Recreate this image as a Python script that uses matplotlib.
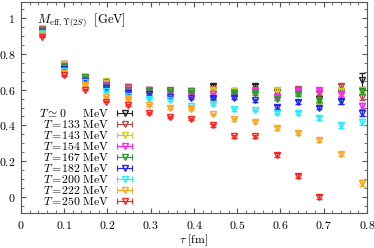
import matplotlib
matplotlib.use('Agg')
import matplotlib.pyplot as plt
from matplotlib.lines import Line2D
from matplotlib.legend_handler import HandlerLine2D
from matplotlib.ticker import MultipleLocator, FuncFormatter

plt.rcParams['mathtext.fontset'] = 'cm'
plt.rcParams['font.family'] = ['DejaVu Serif']

# Euclidean time (fm)
tau = [0.049, 0.099, 0.148, 0.197, 0.247, 0.296, 0.345, 0.394,
       0.444, 0.493, 0.542, 0.592, 0.641, 0.690, 0.740, 0.789]

labels = [r'$T\simeq0\ \ \ \ \ \mathrm{MeV}$', r'$T=\!133\ \mathrm{MeV}$', r'$T=\!143\ \mathrm{MeV}$',
          r'$T=\!154\ \mathrm{MeV}$', r'$T=\!167\ \mathrm{MeV}$', r'$T=\!182\ \mathrm{MeV}$',
          r'$T=\!200\ \mathrm{MeV}$', r'$T=\!222\ \mathrm{MeV}$', r'$T=\!250\ \mathrm{MeV}$']
colors = ['#202020', '#c04848', '#cccc22', '#ff22ff', '#2a9a2a', '#2222ff', '#22eeff', '#ffa520', '#ff2020']

m_T0 = [0.94, 0.745, 0.668, 0.64, 0.612, 0.598, 0.595, 0.59, 0.622, 0.59, 0.618, 0.585, 0.59, 0.545, 0.58, 0.652]
m_133 = [0.94, 0.742, 0.665, 0.638, 0.614, 0.596, 0.592, 0.588, 0.605, 0.585, 0.60, 0.59, 0.605, 0.58, 0.62, 0.56]
m_143 = [0.935, 0.746, 0.666, 0.648, 0.605, 0.592, 0.59, 0.595, 0.60, 0.59, 0.59, 0.60, 0.58, 0.52, 0.59, 0.60]
m_154 = [0.93, 0.73, 0.66, 0.626, 0.61, 0.60, 0.585, 0.575, 0.575, 0.575, 0.59, 0.56, 0.59, 0.60, 0.575, 0.51]
m_167 = [0.935, 0.725, 0.67, 0.62, 0.60, 0.59, 0.60, 0.59, 0.55, 0.58, 0.58, 0.55, 0.575, 0.54, 0.535, 0.59]
m_182 = [0.92, 0.715, 0.65, 0.61, 0.58, 0.575, 0.56, 0.553, 0.555, 0.555, 0.54, 0.503, 0.53, 0.50, 0.535, 0.47]
m_200 = [0.918, 0.705, 0.64, 0.59, 0.565, 0.55, 0.54, 0.51, 0.52, 0.49, 0.486, 0.47, 0.47, 0.44, 0.40, 0.42]
m_222 = [0.91, 0.695, 0.625, 0.56, 0.547, 0.513, 0.50, 0.49, 0.464, 0.435, 0.42, 0.385, 0.357, 0.318, 0.24, 0.078]
m_250 = [0.895, 0.68, 0.60, 0.533, 0.515, 0.47, 0.447, 0.435, 0.40, 0.34, 0.34, 0.235, 0.117, 0.0]

err_T0 = [0.003, 0.003, 0.004, 0.005, 0.006, 0.007, 0.008, 0.009, 0.012, 0.012, 0.015, 0.016, 0.02, 0.022, 0.028, 0.04]
err_hot = [0.003, 0.003, 0.004, 0.004, 0.005, 0.005, 0.006, 0.006, 0.007, 0.008, 0.008, 0.009, 0.010, 0.011, 0.013, 0.016]

series = [m_T0, m_133, m_143, m_154, m_167, m_182, m_200, m_222, m_250]

fig = plt.figure(figsize=(3.74, 2.48), dpi=100)
ax = fig.add_axes([0.056, 0.141, 0.925, 0.851])

handles = []
hmap = {}
for i, (m, c, lab) in enumerate(zip(series, colors, labels)):
    n = len(m)
    err = err_T0[:n] if i == 0 else err_hot[:n]
    ax.errorbar(tau[:n], m, yerr=err, fmt='v', color=c, mfc='none', mec=c,
                ms=5, mew=1.0, elinewidth=0.8, capsize=2.2, capthick=0.8, zorder=2 + i)
    caps = Line2D([], [], color=c, lw=0.8, marker='|', ms=4, mew=0.8)
    tri = Line2D([], [], color=c, ls='none', marker='v', mfc='none', ms=5, mew=1.0)
    hmap[caps] = HandlerLine2D(numpoints=2)
    hmap[tri] = HandlerLine2D(numpoints=1)
    handles.append((caps, tri))

leg = ax.legend(handles, labels, handler_map=hmap, loc='lower left', bbox_to_anchor=(0.032, -0.01),
                frameon=False, markerfirst=False, fontsize=8.5, handlelength=1.9,
                labelspacing=-0.17, handletextpad=0.35, borderpad=0.1)

ax.text(0.046, 0.915, r'$M_{\mathrm{eff},\Upsilon(2S)}\ \ [\mathrm{GeV}]$', transform=ax.transAxes,
        fontsize=9, va='center', ha='left')

ax.set_xlim(0, 0.8)
ax.set_ylim(-0.09, 1.09)
ax.xaxis.set_major_locator(MultipleLocator(0.1))
ax.xaxis.set_minor_locator(MultipleLocator(0.02))
ax.yaxis.set_major_locator(MultipleLocator(0.2))
ax.yaxis.set_minor_locator(MultipleLocator(0.05))
fmt = FuncFormatter(lambda v, p: r'$%g$' % round(v, 2))
ax.xaxis.set_major_formatter(fmt)
ax.yaxis.set_major_formatter(fmt)
ax.tick_params(which='both', direction='in', top=True, right=True, labelsize=8.5, color='#555555')
ax.tick_params(which='major', length=3.5, pad=4)
ax.tick_params(which='minor', length=2)
for s in ax.spines.values():
    s.set_color('#555555')
ax.set_xlabel(r'$\tau\ [\mathrm{fm}]$', fontsize=8.5, labelpad=1)

fig.savefig('out.png', dpi=100)
